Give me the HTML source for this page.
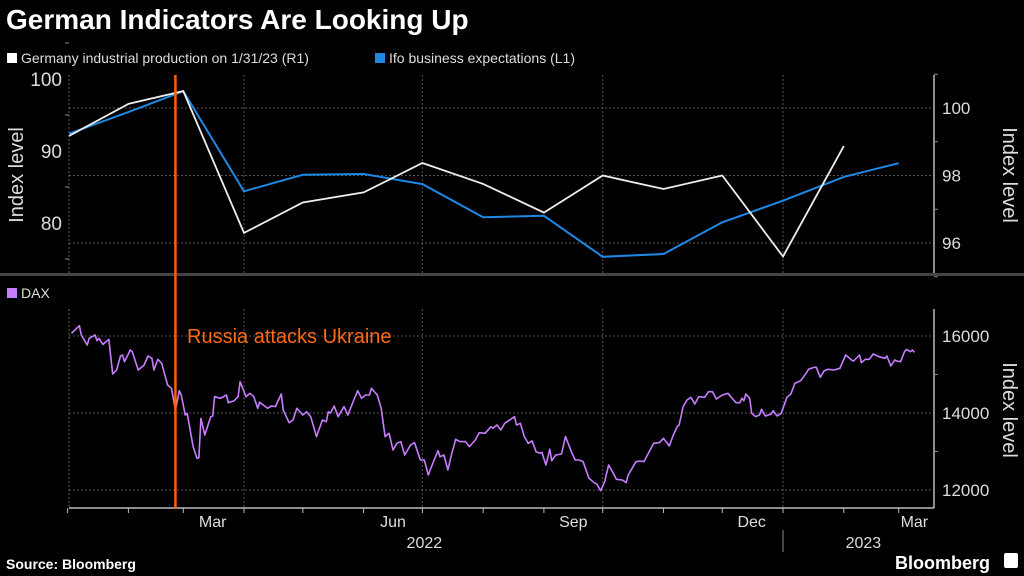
<!DOCTYPE html>
<html><head><meta charset="utf-8"><style>
html,body{margin:0;padding:0;background:#000;}
svg{display:block;font-family:"Liberation Sans",sans-serif;}
</style></head><body>
<svg id="chart" width="1024" height="576" viewBox="0 0 1024 576">
<rect width="1024" height="576" fill="#000"/>
<text x="6" y="29" fill="#fff" font-size="28" font-weight="bold">German Indicators Are Looking Up</text>
<rect x="7" y="53" width="10" height="10" fill="#fff"/>
<text x="21" y="63" fill="#ddd" font-size="14">Germany industrial production on 1/31/23 (R1)</text>
<rect x="375" y="53" width="10" height="10" fill="#1e88e5"/>
<text x="389" y="63" fill="#ddd" font-size="14">Ifo business expectations (L1)</text>
<rect x="7" y="288" width="10" height="10" fill="#c77dff"/>
<text x="21" y="298" fill="#ddd" font-size="14">DAX</text>
<rect x="0" y="273" width="1024" height="3" fill="#444"/>
<g id="grid"></g><g id="axes"></g><g id="series"></g>
<text x="187" y="343" fill="#ff6a13" font-size="20">Russia attacks Ukraine</text>
<text transform="translate(23,175) rotate(-90)" text-anchor="middle" fill="#ddd" font-size="20">Index level</text>
<text transform="translate(1003,175) rotate(90)" text-anchor="middle" fill="#ddd" font-size="20">Index level</text>
<text transform="translate(1003,410) rotate(90)" text-anchor="middle" fill="#ddd" font-size="20">Index level</text>
<text x="6" y="569" fill="#fff" font-size="14" font-weight="bold">Source: Bloomberg</text>
<text x="895" y="569" fill="#fff" font-size="18" font-weight="bold">Bloomberg</text>
<rect x="1004" y="553" width="14" height="15" rx="2" fill="#fff"/>
</svg>
<script>
// month-end dates (days since 2022-01-01)
const monthEndDays=[-1,30,58,89,119,150,180,211,242,272,303,333,364,395,423];
const ifoValues=[92.4,95.4,98.3,84.4,86.7,86.8,85.4,80.8,81.0,75.3,75.7,80.1,83.1,86.4,88.3];
const prodValues=[99.17,100.12,100.5,96.3,97.2,97.5,98.37,97.75,96.9,98.0,97.6,98.0,95.6,98.87];
const daxDays=[1,5,6,9,10,13,14,15,17,20,22,24,26,27,28,31,32,35,38,40,42,43,45,47,50,52,54,56,57,59,60,63,65,66,67,69,72,73,74,77,80,81,84,86,87,90,92,94,96,97,101,103,105,108,109,112,114,116,119,121,123,126,129,131,132,133,135,137,140,142,145,147,149,151,153,154,157,159,161,163,165,167,169,171,174,176,179,181,183,186,188,189,191,193,195,197,199,202,204,207,209,212,215,216,218,220,222,224,227,228,230,232,234,236,238,240,241,243,245,246,248,251,253,255,256,258,260,262,265,268,269,271,273,275,277,279,282,284,285,289,291,293,296,298,301,303,306,308,310,311,313,315,317,319,321,324,326,328,330,333,336,337,340,342,343,344,345,347,348,350,352,353,355,358,359,361,363,364,366,368,370,373,376,377,380,381,383,385,387,390,393,396,399,400,403,404,406,408,410,413,416,417,419,421,422,424,426,427,429,430,431];
const daxValues=[16069,16268,16026,15766,15939,16026,15878,15939,15783,15913,15013,15117,15480,15506,15333,15636,15593,15117,15246,15480,15420,15117,15394,15290,14727,14641,14078,14580,14467,13948,13991,13126,12822,12840,13861,13429,13905,13922,14424,14381,14467,14268,14320,14424,14814,14424,14511,14424,14121,14277,14121,14182,14165,14493,14078,13749,13818,14121,13948,14035,13905,13386,13818,13775,14035,13991,14182,13905,14165,13948,14338,14580,14381,14467,14467,14641,14467,14121,13386,13472,13039,13212,13256,12910,13169,13230,12779,12779,12390,12779,13022,12866,12910,12519,12952,13316,13256,13256,13126,13299,13489,13472,13645,13602,13689,13559,13732,13801,13905,13689,13732,13386,13212,13273,12996,12952,12978,12649,13056,12762,12910,12935,13386,13126,12996,12779,12779,12736,12303,12173,12156,11983,12216,12649,12476,12277,12260,12191,12390,12736,12753,12736,13022,13212,13230,13342,13143,13428,13645,13689,14164,14338,14407,14234,14424,14407,14554,14554,14363,14467,14511,14441,14268,14268,14381,14320,14493,14381,13991,13905,13948,14095,13922,13974,14061,13922,13991,14121,14407,14493,14770,14840,15047,15134,15186,15186,14926,15099,15134,15116,15160,15506,15376,15350,15506,15307,15394,15394,15532,15463,15420,15480,15221,15376,15350,15333,15593,15653,15593,15636,15575];
const leftTicks=[80,90,100];
const rightTicks=[96,98,100];
const daxTicks=[12000,14000,16000];
const monthLabels=["Mar","Jun","Sep","Dec","Mar"];
const monthLabelDays=[73,165,257,348,431];
const yearLabels=["2022","2023"];
const yearLabelDays=[181,405];
const attackDay=54;

const NS="http://www.w3.org/2000/svg";
const X0=69,X1=934;
const x=d=>X0+(d+0.3)*1.96;
const yL=v=>79+(100-v)*7.2;
const yR=v=>108+(100-v)*33.75;
const yD=v=>336+(16000-v)*(77/2000);
function mk(tag,attrs,parent){const e=document.createElementNS(NS,tag);for(const k in attrs)e.setAttribute(k,attrs[k]);parent.appendChild(e);return e;}
const grid=document.getElementById('grid'),axes=document.getElementById('axes'),series=document.getElementById('series');

rightTicks.forEach(v=>{const l=mk('line',{x1:X0,x2:X1,y1:yR(v),y2:yR(v),stroke:'#555','stroke-dasharray':'2,2'},grid);

});
daxTicks.forEach(v=>{const l=mk('line',{x1:X0,x2:X1,y1:yD(v),y2:yD(v),stroke:'#555','stroke-dasharray':'2,2'},grid);

});
[89,180,272,364].forEach(d=>{[[75,273],[309,508]].forEach(r=>{const l=mk('line',{x1:x(d),x2:x(d),y1:r[0],y2:r[1],stroke:'#555','stroke-dasharray':'2,2'},grid);

});});
[[75,273],[309,508]].forEach(r=>{const l=mk('line',{x1:X0,x2:X0,y1:r[0],y2:r[1],stroke:'#666','stroke-dasharray':'2,2'},grid);

});

const ra=mk('line',{x1:X1,x2:X1,y1:75,y2:273,stroke:'#bbb','stroke-width':1.5},axes);


const rb=mk('line',{x1:X1,x2:X1,y1:309,y2:508,stroke:'#bbb','stroke-width':1.5},axes);


const xa=mk('line',{x1:X0,x2:X1,y1:508,y2:508,stroke:'#bbb','stroke-width':1.5},axes);


[75,85,95,105].forEach(v=>{const t=mk('line',{x1:X0-4,x2:X0,y1:yL(v),y2:yL(v),stroke:'#888'},axes);

});
leftTicks.forEach(v=>{const t=mk('text',{x:62,y:yL(v)+7,'text-anchor':'end',fill:'#ddd','font-size':19},axes);t.textContent=v;

});
[95,97,99,101].forEach(v=>{const t=mk('line',{x1:X1,x2:X1+4,y1:yR(v),y2:yR(v),stroke:'#888'},axes);

});
rightTicks.forEach(v=>{const t=mk('text',{x:942,y:yR(v)+6,fill:'#ddd','font-size':17},axes);t.textContent=v;

});
[13000,15000].forEach(v=>{const t=mk('line',{x1:X1,x2:X1+4,y1:yD(v),y2:yD(v),stroke:'#888'},axes);

});
daxTicks.forEach(v=>{const t=mk('text',{x:942,y:yD(v)+6,fill:'#ddd','font-size':17},axes);t.textContent=v;

});
monthEndDays.forEach(d=>{const t=mk('line',{x1:x(d),x2:x(d),y1:508,y2:513,stroke:'#bbb'},axes);

});
monthLabels.forEach((m,i)=>{const t=mk('text',{x:x(monthLabelDays[i]),y:527,'text-anchor':'middle',fill:'#ddd','font-size':16},axes);t.textContent=m;

});
yearLabels.forEach((m,i)=>{const t=mk('text',{x:x(yearLabelDays[i]),y:548,'text-anchor':'middle',fill:'#ddd','font-size':16},axes);t.textContent=m;

});
const ys=mk('line',{x1:x(364),x2:x(364),y1:530,y2:552,stroke:'#888'},axes);



function pts(days,vals,fy){return vals.map((v,i)=>Math.max(X0,x(days[i])).toFixed(1)+','+fy(v).toFixed(1)).join(' ');}
const pIfo=mk('polyline',{points:pts(monthEndDays,ifoValues,yL),fill:'none',stroke:'#1e88e5','stroke-width':2},series);


const pProd=mk('polyline',{points:pts(monthEndDays,prodValues,yR),fill:'none',stroke:'#eee','stroke-width':1.8},series);


const pDax=mk('polyline',{points:pts(daxDays,daxValues,yD),fill:'none',stroke:'#c77dff','stroke-width':1.6,'stroke-linejoin':'round'},series);


const ev=mk('line',{x1:x(attackDay),x2:x(attackDay),y1:75,y2:508,stroke:'#ff5f00','stroke-width':2.5},series);


</script>
</body></html>
